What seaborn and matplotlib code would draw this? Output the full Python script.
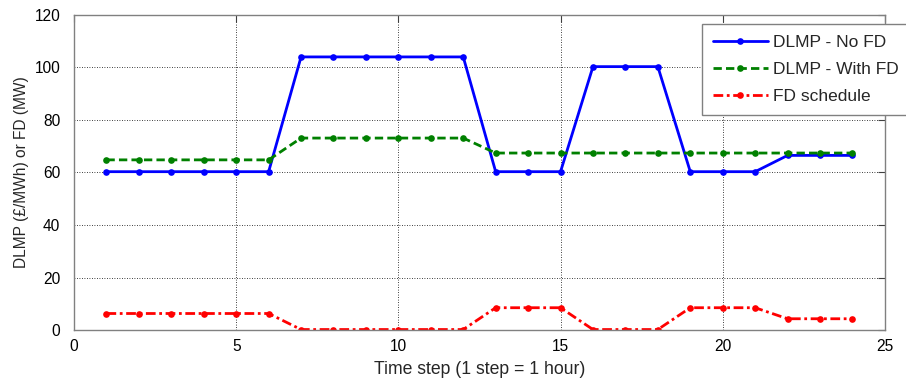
import numpy as np
import pandas as pd
import matplotlib
matplotlib.use("Agg")
import matplotlib.pyplot as plt
import seaborn as sns

# hourly values
steps = list(range(1, 25))
dlmp_no_fd = [60.3] * 6 + [104.0] * 6 + [60.3] * 3 + [100.3] * 3 + [60.3] * 3 + [66.5] * 3
dlmp_with_fd = [64.8] * 6 + [73.1] * 6 + [67.4] * 12
fd_schedule = [6.3] * 6 + [0.2] * 6 + [8.5] * 3 + [0.2] * 3 + [8.5] * 3 + [4.3] * 3

df = pd.DataFrame({'step': steps, 'no_fd': dlmp_no_fd,
                   'with_fd': dlmp_with_fd, 'fd': fd_schedule})

sns.set_style("white")
plt.rcParams['font.family'] = ['Liberation Sans', 'DejaVu Sans']

fig = plt.figure(figsize=(9.06, 3.82), dpi=100)
ax = fig.add_axes([0.0817, 0.136, 0.895, 0.825])

sns.lineplot(data=df, x='step', y='no_fd', ax=ax, color='#0000ff', lw=2.0,
             marker='o', markersize=4.8, markeredgewidth=0, label='DLMP - No FD')
sns.lineplot(data=df, x='step', y='with_fd', ax=ax, color='#008000', lw=2.0,
             linestyle=(0, (3, 1.5)), marker='o', markersize=4.8,
             markeredgewidth=0, label='DLMP - With FD')
sns.lineplot(data=df, x='step', y='fd', ax=ax, color='#ff0000', lw=2.0,
             linestyle=(0, (3.5, 1.3, 1, 1.3)), marker='o', markersize=4.8,
             markeredgewidth=0, label='FD schedule')

ax.set_xlim(0, 25)
ax.set_ylim(0, 120)
ax.set_xticks([0, 5, 10, 15, 20, 25])
ax.set_yticks([0, 20, 40, 60, 80, 100, 120])
ax.grid(True, color='black', linestyle=(0, (1, 2)), linewidth=0.6)
ax.tick_params(direction='in', top=True, right=True, length=5, width=0.8,
               colors='#404040', labelcolor='black', labelsize=11.2)
ax.tick_params(axis='x', pad=6.5)
ax.tick_params(axis='y', pad=10)
for s in ax.spines.values():
    s.set_color('#808080')
    s.set_linewidth(1.0)

ax.set_xlabel('Time step (1 step = 1 hour)', fontsize=12.7, labelpad=5)
ax.set_ylabel('DLMP (£/MWh) or FD (MW)', fontsize=11.2, labelpad=4)

leg = ax.legend(loc='upper left', bbox_to_anchor=(0.775, 0.937),
                bbox_transform=fig.transFigure, fontsize=12.5, frameon=True,
                fancybox=False, framealpha=1, edgecolor='#808080',
                handlelength=3.2, handletextpad=0.3, borderpad=0.6,
                labelspacing=0.7, borderaxespad=0)
leg.get_frame().set_linewidth(1.0)

fig.savefig('out.png', dpi=100)
